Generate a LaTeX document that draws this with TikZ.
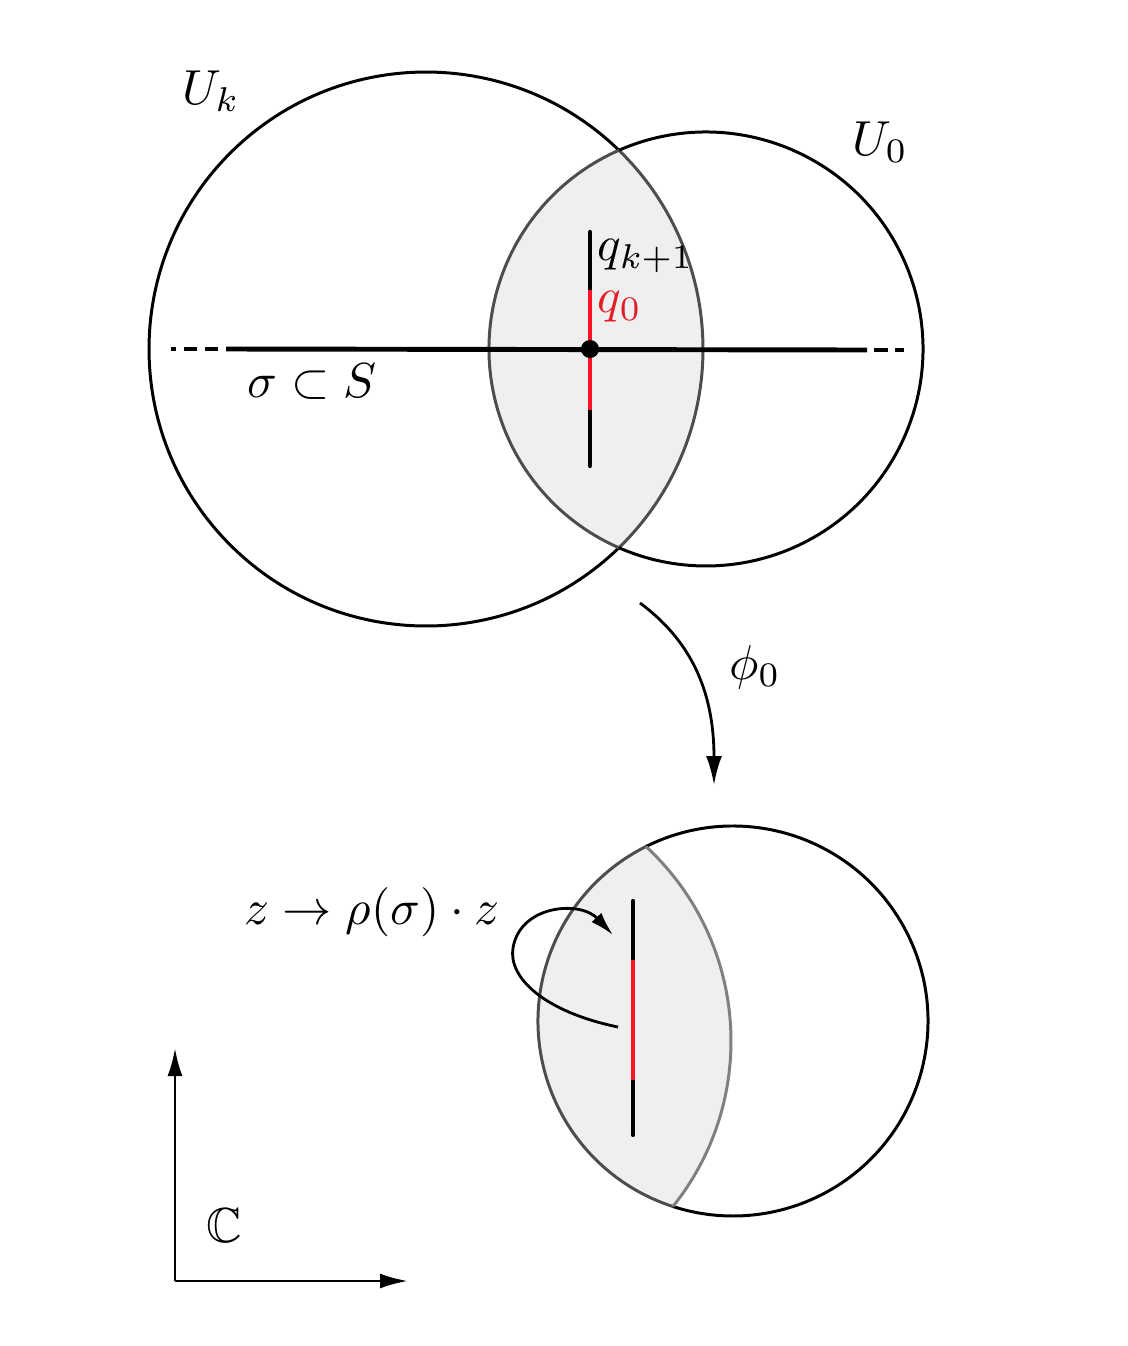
\documentclass[tikz,border=0pt]{standalone}
\usepackage{amssymb}
\usetikzlibrary{arrows.meta}
\definecolor{lensfill}{HTML}{EFEFEF}
\definecolor{lensedge}{HTML}{4D4D4D}
\definecolor{lensedgeb}{HTML}{808080}
\definecolor{segred}{RGB}{250,20,35}
\definecolor{txtred}{RGB}{225,30,40}
\begin{document}
\begin{tikzpicture}[x=0.02cm,y=-0.02cm,
  circ/.style={line width=1.7pt,black},
  lensline/.style={line width=1.7pt,lensedge},
  hline/.style={line width=2.8pt,black},
  vseg/.style={line width=2.4pt,black,line cap=round},
  rseg/.style={line width=2.4pt,segred},
  arr/.style={line width=1.6pt,-{Latex[length=0.58cm,width=0.32cm]}},
  lbl/.style={scale=2.8,inner sep=0pt}]
\useasboundingbox (0,0) rectangle (1128,1346);
% ---------- top ----------
\coordinate (C1) at (426,349);
\coordinate (C2) at (706,349);
\fill[lensfill] (C2) ++(246.35:217) arc[start angle=246.35,end angle=113.65,radius=217]
  arc[start angle=45.85,end angle=-45.85,radius=277] -- cycle;
\draw[circ] (C1) ++(45.85:277) arc[start angle=45.85,end angle=314.15,radius=277];
\draw[lensline] (C1) ++(-45.85:277) arc[start angle=-45.85,end angle=45.85,radius=277];
\draw[circ] (C2) ++(-113.65:217) arc[start angle=-113.65,end angle=113.65,radius=217];
\draw[lensline] (C2) ++(113.65:217) arc[start angle=113.65,end angle=246.35,radius=217];
% vertical segment
\coordinate (v1) at (590,232);
\coordinate (v2) at (590,290);
\coordinate (v3) at (590,410);
\coordinate (v4) at (590,466);
\draw[vseg] (v1) -- (v4);
\draw[rseg] (v2) -- (v3);
% horizontal line
\coordinate (hl) at (226,349);
\coordinate (hr) at (867,350);
\coordinate (hle) at (171,349);
\coordinate (hre) at (904,350);
\draw[hline] (hl) -- (hr);
\draw[hline,dash pattern=on 7.4pt off 4.5pt,dash phase=7.4pt] (hl) -- (hle);
\draw[hline,dash pattern=on 7.8pt off 4pt,dash phase=7.8pt] (hr) -- (hre);
\node[circle,fill=black,inner sep=0pt,minimum size=0.36cm] (p) at (590,349) {};
% labels
\node[lbl] (Uk) at (211,91) {$U_k$};
\node[lbl] (U0) at (880,142) {$U_0$};
\node[lbl,anchor=west] (qk) at (597,256) {$q_{k+1}$};
\node[lbl,anchor=west,text=txtred] (q0) at (597,307) {$q_0$};
\node[lbl] (sig) at (312,382) {$\sigma\subset S$};
% ---------- map ----------
\coordinate (pa) at (640,603);
\coordinate (pb) at (714,785);
\draw[arr] (pa) .. controls (690,640) and (714,690) .. (pb);
\node[lbl] (phi) at (755,667) {$\phi_0$};
% ---------- bottom ----------
\coordinate (C3) at (733,1021);
\coordinate (C4) at (466,1041);
\fill[lensfill] (C3) ++(243.5:195) arc[start angle=243.5,end angle=107.9,radius=195]
  arc[start angle=38.6,end angle=-47.2,radius=265] -- cycle;
\draw[circ] (C3) ++(-116.5:195) arc[start angle=-116.5,end angle=107.9,radius=195];
\draw[lensline] (C3) ++(107.9:195) arc[start angle=107.9,end angle=243.5,radius=195];
\draw[line width=1.7pt,lensedgeb] (C4) ++(-47.2:265) arc[start angle=-47.2,end angle=38.6,radius=265];
\coordinate (w1) at (633,901);
\coordinate (w2) at (633,960);
\coordinate (w3) at (633,1080);
\coordinate (w4) at (633,1135);
\draw[vseg] (w1) -- (w4);
\draw[rseg] (w2) -- (w3);
% loop arrow
\coordinate (ls) at (618,1027);
\coordinate (le) at (613,935);
\draw[line width=1.6pt,-{Latex[length=0.48cm,width=0.27cm]}] (ls) .. controls (545,1012) and (508,978) .. (513,948)
  .. controls (520,905) and (580,900) .. (le);
\node[lbl] (rho) at (372,912) {$z\to\rho(\sigma)\cdot z$};
% axes
\coordinate (O) at (175,1281);
\coordinate (Y) at (175,1048);
\coordinate (X) at (408,1281);
\draw[arr,-{Latex[length=0.56cm,width=0.3cm]}] (O) -- (Y);
\draw[arr,-{Latex[length=0.56cm,width=0.3cm]}] (O) -- (X);
\node[lbl] (CC) at (224,1226) {$\mathbb{C}$};
\end{tikzpicture}
\end{document}
